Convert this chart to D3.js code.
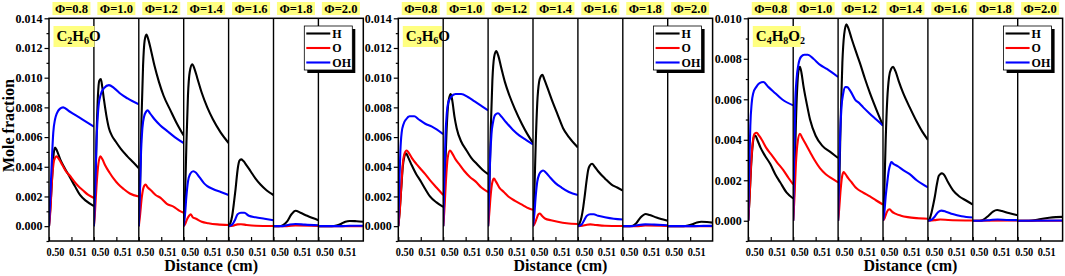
<!DOCTYPE html>
<html><head><meta charset="utf-8">
<script src="https://cdn.jsdelivr.net/npm/d3@7"></script>
<style>body{margin:0;background:#fff}svg{display:block}</style>
</head><body><svg id="c" width="1065" height="276"></svg>
<script>
// ---------------- DATA ----------------
const fuelParts = [["C","2","H","6","O"],["C","3","H","6","O"],["C","4","H","8","O","2"]];
const phiLabels = ["Φ=0.8","Φ=1.0","Φ=1.2","Φ=1.4","Φ=1.6","Φ=1.8","Φ=2.0"];
const speciesNames = ["H","O","OH"];
const xDomain = [0.50, 0.52];
const xTickValues = [0.50, 0.51];
const yDomainAB = [-0.001, 0.014];
const yDomainC = [-0.001, 0.010];
const yTicksAB = [0, 0.002, 0.004, 0.006, 0.008, 0.010, 0.012, 0.014];
const yTicksC = [0, 0.002, 0.004, 0.006, 0.008, 0.010];
const xAxisTitle = "Distance (cm)";
const yAxisTitle = "Mole fraction";

// C2H6O : one list of [distance, mole fraction] per Φ
const c2h6o_H = [
 [[0.500,0],[0.5008,0.0017],[0.5015,0.0036],[0.5021,0.0049],[0.5027,0.0053],[0.5035,0.0051],[0.505,0.0045],[0.507,0.0039],[0.5093,0.0033],[0.5115,0.0027],[0.5138,0.0021],[0.5165,0.0017],[0.520,0.00135]],
 [[0.500,0],[0.5006,0.0025],[0.5012,0.0062],[0.5018,0.0088],[0.5024,0.0098],[0.5031,0.0099],[0.5037,0.0094],[0.5045,0.0085],[0.5055,0.0075],[0.5067,0.0066],[0.508,0.0061],[0.5097,0.0057],[0.512,0.0052],[0.5149,0.0047],[0.5175,0.0043],[0.520,0.0039]],
 [[0.500,0],[0.5006,0.0030],[0.5012,0.0072],[0.5019,0.0108],[0.5026,0.0125],[0.5034,0.0129],[0.5042,0.0126],[0.5055,0.0118],[0.507,0.0108],[0.509,0.0097],[0.511,0.0088],[0.5141,0.0078],[0.517,0.0069],[0.520,0.0061]],
 [[0.500,0],[0.5006,0.0020],[0.5012,0.0055],[0.5019,0.0088],[0.5027,0.0104],[0.5038,0.0109],[0.5048,0.0106],[0.506,0.0100],[0.508,0.0090],[0.5105,0.0080],[0.513,0.0072],[0.5165,0.0063],[0.520,0.0056]],
 [[0.500,0],[0.5008,0.0002],[0.5016,0.0007],[0.5024,0.0016],[0.5031,0.0025],[0.5041,0.0039],[0.5048,0.0044],[0.5056,0.0045],[0.5065,0.0044],[0.508,0.0041],[0.5098,0.0037],[0.512,0.0032],[0.5142,0.0028],[0.517,0.0024],[0.520,0.0021]],
 [[0.500,0],[0.5025,0],[0.504,0.00005],[0.506,0.0003],[0.508,0.0008],[0.5098,0.00104],[0.512,0.0009],[0.515,0.0007],[0.520,0.0004]],
 [[0.500,0],[0.506,0],[0.508,0.00004],[0.510,0.00015],[0.512,0.0003],[0.514,0.00035],[0.517,0.00033],[0.520,0.0003]]
];
const c2h6o_O = [
 [[0.500,0],[0.5006,0.0010],[0.5013,0.0030],[0.5020,0.0042],[0.5027,0.0046],[0.5034,0.0047],[0.5045,0.0045],[0.506,0.0041],[0.508,0.0036],[0.5093,0.0034],[0.5108,0.0031],[0.513,0.0027],[0.5152,0.0024],[0.5175,0.0021],[0.520,0.0019]],
 [[0.500,0],[0.5005,0.0010],[0.5012,0.0028],[0.5020,0.0042],[0.5029,0.0047],[0.5038,0.0045],[0.505,0.0041],[0.507,0.0036],[0.5088,0.0032],[0.511,0.0028],[0.5133,0.0025],[0.516,0.0022],[0.520,0.0020]],
 [[0.500,0],[0.5006,0.0008],[0.5013,0.0019],[0.5021,0.0026],[0.5030,0.0028],[0.5040,0.0026],[0.5055,0.0024],[0.5075,0.0021],[0.5097,0.0019],[0.5125,0.0015],[0.5156,0.0013],[0.518,0.00105],[0.520,0.0009]],
 [[0.500,0],[0.5008,0.0002],[0.5016,0.0005],[0.5024,0.0007],[0.5031,0.0008],[0.504,0.0006],[0.5055,0.0005],[0.508,0.0003],[0.511,0.0002],[0.515,0.00012],[0.520,0.00008]],
 [[0.500,0],[0.502,0.00003],[0.504,0.00012],[0.5055,0.00013],[0.508,0.00008],[0.512,0.00003],[0.520,0.00001]],
 [[0.500,0],[0.506,0],[0.5098,0.00005],[0.520,0.00002]],
 [[0.500,0],[0.520,0]]
];
const c2h6o_OH = [
 [[0.500,0],[0.5006,0.0020],[0.5012,0.0042],[0.5019,0.0063],[0.5027,0.0072],[0.5035,0.0076],[0.5048,0.0079],[0.5063,0.0080],[0.509,0.00774],[0.512,0.00746],[0.515,0.00717],[0.520,0.0067]],
 [[0.500,0],[0.5006,0.0025],[0.5012,0.0058],[0.5019,0.0078],[0.5029,0.0088],[0.5045,0.0093],[0.5067,0.0095],[0.509,0.0093],[0.512,0.0089],[0.515,0.0086],[0.520,0.0082]],
 [[0.500,0],[0.5005,0.0022],[0.5010,0.0050],[0.5016,0.0066],[0.5024,0.0074],[0.5032,0.0077],[0.5039,0.0078],[0.505,0.0076],[0.507,0.0072],[0.5095,0.0068],[0.5127,0.0064],[0.516,0.0060],[0.520,0.0056]],
 [[0.500,0],[0.5006,0.0008],[0.5012,0.0020],[0.5019,0.0030],[0.5028,0.0035],[0.5042,0.0037],[0.5055,0.0036],[0.507,0.0033],[0.509,0.0029],[0.5105,0.0027],[0.513,0.0025],[0.5165,0.0023],[0.520,0.0021]],
 [[0.500,0],[0.5016,0.0001],[0.5028,0.0004],[0.504,0.0008],[0.5055,0.0009],[0.507,0.0009],[0.509,0.0007],[0.512,0.0006],[0.516,0.0005],[0.520,0.0004]],
 [[0.500,0],[0.504,0],[0.507,0.0001],[0.5098,0.00015],[0.514,0.0001],[0.520,0.00006]],
 [[0.500,0],[0.510,0],[0.514,0.00003],[0.520,0.00003]]
];

// C3H6O
const c3h6o_H = [
 [[0.500,0],[0.5006,0.0010],[0.5013,0.0025],[0.5020,0.0040],[0.5027,0.0047],[0.5034,0.0049],[0.5045,0.0046],[0.506,0.0041],[0.508,0.0035],[0.5097,0.0031],[0.512,0.0025],[0.5141,0.0020],[0.517,0.0016],[0.520,0.0013]],
 [[0.500,0],[0.5006,0.0022],[0.5012,0.0052],[0.5019,0.0076],[0.5026,0.0086],[0.5034,0.0089],[0.5041,0.0084],[0.505,0.0074],[0.506,0.0066],[0.508,0.0057],[0.5104,0.0051],[0.5125,0.0046],[0.5149,0.0042],[0.5175,0.0038],[0.520,0.0035]],
 [[0.500,0],[0.5006,0.0028],[0.5012,0.0066],[0.5019,0.0098],[0.5027,0.0114],[0.5036,0.0118],[0.5045,0.0115],[0.5058,0.0107],[0.5075,0.0097],[0.5095,0.0088],[0.5119,0.0079],[0.515,0.0069],[0.5175,0.0062],[0.520,0.0056]],
 [[0.500,0],[0.5006,0.0022],[0.5012,0.0055],[0.5019,0.0083],[0.5027,0.0097],[0.5035,0.0101],[0.5042,0.0102],[0.505,0.0099],[0.5065,0.0093],[0.5089,0.0083],[0.511,0.0075],[0.5134,0.0066],[0.516,0.0060],[0.520,0.0053]],
 [[0.500,0],[0.5008,0.0002],[0.5016,0.0006],[0.5024,0.0013],[0.5031,0.0021],[0.5039,0.0031],[0.5046,0.0038],[0.5054,0.0041],[0.5063,0.0042],[0.5075,0.0040],[0.509,0.0037],[0.5121,0.0032],[0.515,0.0028],[0.5175,0.0026],[0.520,0.0024]],
 [[0.500,0],[0.503,0],[0.5045,0.00003],[0.506,0.0002],[0.508,0.0006],[0.5102,0.00082],[0.512,0.00075],[0.515,0.00058],[0.520,0.00037]],
 [[0.500,0],[0.507,0],[0.509,0.00004],[0.511,0.00013],[0.513,0.00025],[0.515,0.0003],[0.5175,0.00028],[0.520,0.00024]]
];
const c3h6o_O = [
 [[0.500,0],[0.5006,0.0009],[0.5013,0.0026],[0.5020,0.0042],[0.5028,0.0049],[0.5037,0.0051],[0.5048,0.0049],[0.506,0.0046],[0.508,0.0042],[0.5097,0.0039],[0.512,0.0035],[0.5141,0.0031],[0.517,0.0026],[0.520,0.0021]],
 [[0.500,0],[0.5005,0.0010],[0.5012,0.0030],[0.5020,0.0046],[0.503,0.0051],[0.504,0.0049],[0.5055,0.0045],[0.5075,0.0041],[0.5095,0.0037],[0.512,0.0033],[0.5145,0.0030],[0.517,0.0026],[0.520,0.0023]],
 [[0.500,0],[0.5005,0.0008],[0.5011,0.0020],[0.5018,0.0029],[0.5026,0.0032],[0.5035,0.0030],[0.505,0.0026],[0.507,0.0023],[0.509,0.0020],[0.512,0.0017],[0.5156,0.0014],[0.518,0.0012],[0.520,0.0011]],
 [[0.500,0],[0.5008,0.0002],[0.5016,0.0005],[0.5024,0.0008],[0.5031,0.00085],[0.504,0.0007],[0.5055,0.0005],[0.508,0.0004],[0.511,0.0003],[0.515,0.0002],[0.520,0.00015]],
 [[0.500,0],[0.502,0.00003],[0.504,0.0001],[0.5055,0.00012],[0.508,0.00008],[0.512,0.00003],[0.520,0.00001]],
 [[0.500,0],[0.506,0],[0.510,0.00004],[0.520,0.00002]],
 [[0.500,0],[0.520,0]]
];
const c3h6o_OH = [
 [[0.500,0],[0.5004,0.0025],[0.5009,0.0050],[0.5015,0.0063],[0.5024,0.0069],[0.5035,0.0072],[0.505,0.0074],[0.5071,0.0074],[0.509,0.0072],[0.512,0.0069],[0.515,0.0067],[0.520,0.0062]],
 [[0.500,0],[0.5005,0.0030],[0.5010,0.0060],[0.5016,0.0076],[0.5022,0.0083],[0.5035,0.0087],[0.5055,0.0089],[0.508,0.0089],[0.511,0.0087],[0.514,0.0084],[0.517,0.0081],[0.520,0.0078]],
 [[0.500,0],[0.5004,0.0020],[0.5009,0.0045],[0.5015,0.0062],[0.5022,0.0070],[0.5032,0.0075],[0.5044,0.0076],[0.5058,0.0074],[0.508,0.0070],[0.511,0.0065],[0.514,0.0061],[0.517,0.0058],[0.520,0.0055]],
 [[0.500,0],[0.5006,0.0008],[0.5012,0.0020],[0.5019,0.0030],[0.5028,0.0035],[0.5038,0.0037],[0.5045,0.00375],[0.5058,0.0036],[0.5075,0.0033],[0.510,0.0029],[0.5127,0.0026],[0.516,0.0023],[0.520,0.0021]],
 [[0.500,0],[0.5016,0.0001],[0.5028,0.0004],[0.504,0.0007],[0.5055,0.0008],[0.507,0.0008],[0.509,0.0007],[0.512,0.0006],[0.516,0.0005],[0.520,0.00045]],
 [[0.500,0],[0.504,0],[0.507,0.00008],[0.510,0.00012],[0.514,0.0001],[0.520,0.00006]],
 [[0.500,0],[0.512,0],[0.516,0.00002],[0.520,0.00002]]
];

// C4H8O2
const c4h8o2_H = [
 [[0.500,0],[0.5006,0.0012],[0.5013,0.0028],[0.5020,0.0038],[0.5026,0.0042],[0.5032,0.0042],[0.504,0.0040],[0.5055,0.0036],[0.5075,0.0032],[0.5098,0.0028],[0.512,0.0023],[0.5142,0.0019],[0.517,0.0014],[0.520,0.0011]],
 [[0.500,0],[0.5006,0.0020],[0.5012,0.0048],[0.5019,0.0068],[0.5025,0.0075],[0.503,0.0076],[0.5037,0.0073],[0.5045,0.0067],[0.506,0.0058],[0.5075,0.0050],[0.510,0.0042],[0.513,0.0037],[0.5165,0.0034],[0.520,0.0031]],
 [[0.500,0],[0.5006,0.0022],[0.5012,0.0052],[0.5019,0.0078],[0.5027,0.0092],[0.5037,0.0097],[0.5046,0.0095],[0.506,0.0090],[0.5078,0.0084],[0.5097,0.0078],[0.512,0.0070],[0.5142,0.0063],[0.517,0.0055],[0.520,0.0047]],
 [[0.500,0],[0.5006,0.0015],[0.5012,0.0040],[0.5019,0.0060],[0.5027,0.0071],[0.5036,0.0075],[0.5045,0.0076],[0.5055,0.0074],[0.507,0.0069],[0.509,0.0063],[0.5119,0.0056],[0.515,0.0049],[0.5175,0.0044],[0.520,0.0040]],
 [[0.500,0],[0.5008,0.0001],[0.5016,0.0004],[0.5024,0.0008],[0.5031,0.0012],[0.504,0.0018],[0.5048,0.0022],[0.5055,0.0023],[0.5061,0.00235],[0.507,0.0023],[0.509,0.0019],[0.5112,0.0015],[0.514,0.0012],[0.517,0.0010],[0.520,0.0008]],
 [[0.500,0],[0.503,0],[0.5045,0.00004],[0.507,0.00025],[0.509,0.00045],[0.5108,0.00053],[0.513,0.00048],[0.516,0.00038],[0.520,0.00027]],
 [[0.500,0],[0.505,0],[0.508,0.00003],[0.511,0.0001],[0.514,0.00015],[0.517,0.00018],[0.520,0.00019]]
];
const c4h8o2_O = [
 [[0.500,0],[0.5005,0.0010],[0.5012,0.0027],[0.5020,0.0039],[0.5028,0.0043],[0.5037,0.00435],[0.5048,0.0042],[0.506,0.0040],[0.508,0.0036],[0.510,0.0033],[0.5127,0.0029],[0.5156,0.0025],[0.518,0.0021],[0.520,0.0018]],
 [[0.500,0],[0.5005,0.0010],[0.5012,0.0028],[0.5020,0.0039],[0.503,0.0043],[0.504,0.0041],[0.5055,0.0038],[0.5075,0.0034],[0.5095,0.0030],[0.5119,0.0026],[0.5145,0.0023],[0.517,0.0021],[0.520,0.0019]],
 [[0.500,0],[0.5005,0.0006],[0.5011,0.0015],[0.5018,0.0022],[0.5025,0.0024],[0.5033,0.0023],[0.5045,0.0021],[0.506,0.0019],[0.5082,0.0016],[0.511,0.0014],[0.5142,0.0012],[0.517,0.0010],[0.520,0.0008]],
 [[0.500,0],[0.5008,0.00015],[0.5016,0.0004],[0.5024,0.00055],[0.503,0.00057],[0.504,0.00045],[0.5055,0.00035],[0.508,0.00025],[0.511,0.00018],[0.515,0.00013],[0.520,0.0001]],
 [[0.500,0],[0.503,0.00003],[0.5055,0.00006],[0.509,0.00004],[0.520,0.00001]],
 [[0.500,0],[0.520,0.00001]],
 [[0.500,0],[0.520,0]]
];
const c4h8o2_OH = [
 [[0.500,0],[0.5004,0.0025],[0.5009,0.0047],[0.5015,0.0058],[0.5022,0.0063],[0.5035,0.0066],[0.505,0.0068],[0.5067,0.00685],[0.509,0.0066],[0.512,0.0063],[0.515,0.0060],[0.520,0.0057]],
 [[0.500,0],[0.5004,0.0030],[0.5009,0.0058],[0.5015,0.0070],[0.5023,0.0077],[0.5035,0.0081],[0.505,0.0082],[0.5065,0.0082],[0.509,0.0080],[0.512,0.0077],[0.515,0.0075],[0.520,0.0071]],
 [[0.500,0],[0.5004,0.0020],[0.5009,0.0042],[0.5015,0.0056],[0.5023,0.0063],[0.5032,0.0066],[0.504,0.0066],[0.5055,0.0064],[0.5075,0.0060],[0.5095,0.0058],[0.5112,0.0056],[0.514,0.0053],[0.517,0.0050],[0.520,0.0047]],
 [[0.500,0],[0.5006,0.0004],[0.5012,0.0012],[0.5019,0.0019],[0.5026,0.0025],[0.5033,0.0028],[0.5037,0.0029],[0.5048,0.0028],[0.5065,0.0027],[0.509,0.0025],[0.5119,0.0023],[0.515,0.0020],[0.520,0.00165]],
 [[0.500,0],[0.5016,0.00005],[0.503,0.0002],[0.5045,0.00042],[0.506,0.0005],[0.508,0.00045],[0.511,0.00033],[0.515,0.00022],[0.520,0.00016]],
 [[0.500,0],[0.504,0],[0.508,0.00004],[0.511,0.00006],[0.515,0.00004],[0.520,0.00003]],
 [[0.500,0],[0.520,0.00001]]
];

// ---------------- LAYOUT / STYLE ----------------
const panels = [
  {left: 49,    yDomain: yDomainAB, yTicks: yTicksAB, series: [c2h6o_H, c2h6o_O, c2h6o_OH], fuel: fuelParts[0], boxW: 41, yTitle: true},
  {left: 398.3, yDomain: yDomainAB, yTicks: yTicksAB, series: [c3h6o_H, c3h6o_O, c3h6o_OH], fuel: fuelParts[1], boxW: 39, yTitle: false},
  {left: 748.3, yDomain: yDomainC,  yTicks: yTicksC,  series: [c4h8o2_H, c4h8o2_O, c4h8o2_OH], fuel: fuelParts[2], boxW: 48, yTitle: false}
];
const colors = ["#000000", "#ff0000", "#0000ff"];
const SUBW = 44.9, TOP = 18.3, BOTTOM = 241;
const FONT = "'Liberation Serif','Times New Roman',serif";
const YELLOW = "#ffff80";

const svg = d3.select("#c");
svg.append("rect").attr("width",1065).attr("height",276).attr("fill","#fff");
const defs = svg.append("defs");

panels.forEach((p, pi) => {
  const L = p.left, R = L + 7*SUBW;
  const y = d3.scaleLinear().domain(p.yDomain).range([BOTTOM, TOP]);
  const g = svg.append("g");
  const line = d3.line().curve(d3.curveMonotoneX);

  for (let i = 0; i < 7; i++) {
    const x = d3.scaleLinear().domain(xDomain).range([L + i*SUBW, L + (i+1)*SUBW]);
    const cid = `clip${pi}_${i}`;
    defs.append("clipPath").attr("id", cid).append("rect")
      .attr("x", x(xDomain[0])).attr("y", TOP).attr("width", SUBW).attr("height", BOTTOM - TOP);
    const cg = g.append("g").attr("clip-path", `url(#${cid})`);
    p.series.forEach((s, si) => {
      line.x(d => x(d[0])).y(d => y(d[1]));
      cg.append("path").attr("d", line(s[i])).attr("fill","none")
        .attr("stroke", colors[si]).attr("stroke-width", 2.1).attr("stroke-linejoin","round");
    });
    // x axis for this sub panel
    const ax = g.append("g").attr("transform", `translate(0,${BOTTOM})`)
      .call(d3.axisBottom(x).tickValues(xTickValues).tickSizeInner(-4).tickSizeOuter(0).tickFormat(d3.format(".2f")));
    ax.select(".domain").remove();
    ax.selectAll("line").attr("stroke","#000").attr("stroke-width",1.2);
    ax.selectAll("text").attr("y", 15).attr("dy", null).attr("dx", 6).attr("fill","#000")
      .attr("font-family", FONT).attr("font-weight","bold").attr("font-size", 11.5)
      .attr("textLength", 18).attr("lengthAdjust","spacingAndGlyphs");
    // Φ label
    const cx = x((xDomain[0]+xDomain[1])/2);
    g.append("rect").attr("x", cx - 19).attr("y", 2).attr("width", 38).attr("height", 13).attr("fill", YELLOW);
    g.append("text").attr("x", cx).attr("y", 12.8).attr("text-anchor","middle")
      .attr("font-family", FONT).attr("font-weight","bold").attr("font-size", 12.5).text(phiLabels[i]);
  }

  // separators and frame
  for (let i = 1; i < 7; i++) {
    g.append("line").attr("x1", L + i*SUBW).attr("x2", L + i*SUBW).attr("y1", TOP).attr("y2", BOTTOM)
      .attr("stroke","#000").attr("stroke-width",1.4);
  }
  g.append("rect").attr("x", L).attr("y", TOP).attr("width", R - L).attr("height", BOTTOM - TOP)
    .attr("fill","none").attr("stroke","#000").attr("stroke-width",1.5);

  // y axis
  const minor = d3.range(Math.round(p.yDomain[0]*1000), Math.round(p.yDomain[1]*1000)+1).map(v => v/1000)
    .filter(v => !p.yTicks.some(t => Math.abs(t - v) < 1e-9));
  const aym = g.append("g").attr("transform", `translate(${L},0)`)
    .call(d3.axisLeft(y).tickValues(minor).tickSize(2.5).tickFormat(""));
  aym.select(".domain").remove();
  const ay = g.append("g").attr("transform", `translate(${L},0)`)
    .call(d3.axisLeft(y).tickValues(p.yTicks).tickSize(4.5).tickPadding(2).tickFormat(d3.format(".3f")));
  ay.select(".domain").remove();
  [ay, aym].forEach(a => a.selectAll("line").attr("stroke","#000").attr("stroke-width",1.2));
  ay.selectAll("text").attr("fill","#000").attr("font-family", FONT).attr("font-weight","bold").attr("font-size", 12);

  // x axis title
  g.append("text").attr("x", (L + R)/2 + 5).attr("y", 271).attr("text-anchor","middle")
    .attr("font-family", FONT).attr("font-weight","bold").attr("font-size", 16).text(xAxisTitle);
  if (p.yTitle) {
    g.append("text").attr("transform", `translate(14,${(TOP+BOTTOM)/2 - 4}) rotate(-90)`).attr("text-anchor","middle")
      .attr("font-family", FONT).attr("font-weight","bold").attr("font-size", 16).text(yAxisTitle);
  }

  // fuel label
  const fx = L + 4.5;
  g.append("rect").attr("x", fx).attr("y", 26).attr("width", p.boxW).attr("height", 21).attr("fill", YELLOW);
  const ft = g.append("text").attr("x", fx + 3).attr("y", 40.5)
    .attr("font-family", FONT).attr("font-weight","bold").attr("font-size", 15);
  p.fuel.forEach((part, k) => {
    const isSub = k % 2 === 1;
    ft.append("tspan").attr("font-size", isSub ? 10 : 15).attr("dy", isSub ? 3 : (k>0 ? -3 : 0)).text(part);
  });

  // legend
  const lx = R - 59, ly = 26, lw = 48, lh = 44;
  g.append("rect").attr("x", lx + 3).attr("y", ly + 3).attr("width", lw).attr("height", lh).attr("fill","#000");
  g.append("rect").attr("x", lx).attr("y", ly).attr("width", lw).attr("height", lh)
    .attr("fill","#fff").attr("stroke","#000").attr("stroke-width",0.8);
  speciesNames.forEach((nm, k) => {
    const yy = ly + 7.5 + k*14.5;
    g.append("line").attr("x1", lx + 2).attr("x2", lx + 26).attr("y1", yy).attr("y2", yy)
      .attr("stroke", colors[k]).attr("stroke-width", 2.1);
    g.append("text").attr("x", lx + 28).attr("y", yy + 4).attr("font-family", FONT)
      .attr("font-weight","bold").attr("font-size", 12).text(nm);
  });
});
</script></body></html>
